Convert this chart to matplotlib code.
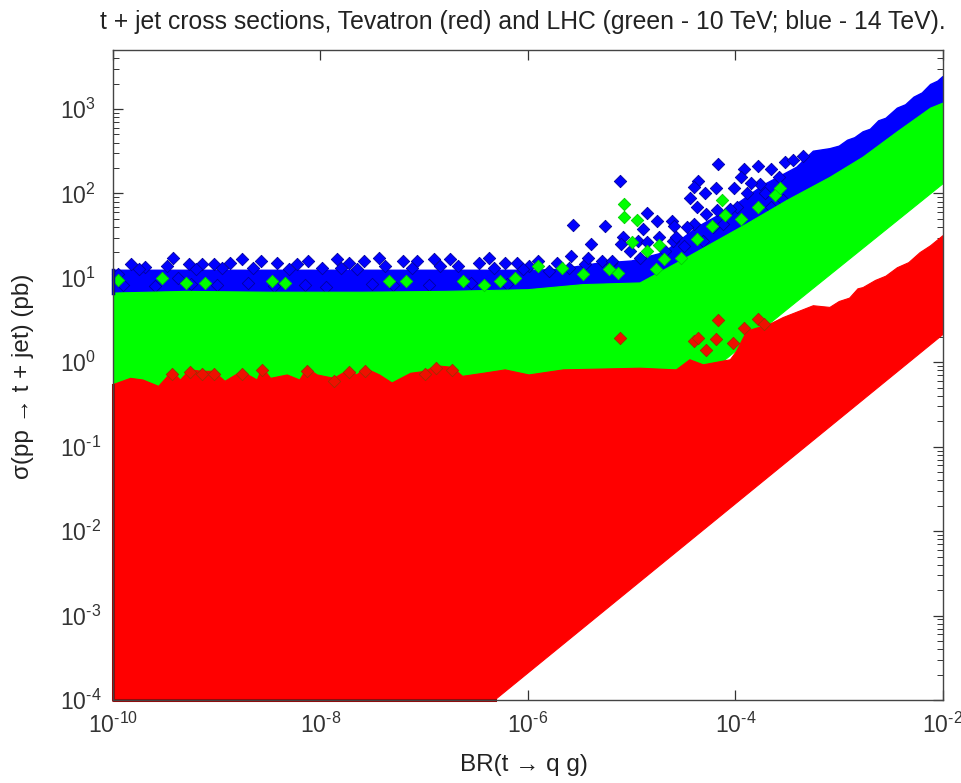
import matplotlib
matplotlib.use("Agg")
import matplotlib.pyplot as plt
import numpy as np
from matplotlib.ticker import FuncFormatter, NullFormatter

plt.rcParams["font.family"] = ["Liberation Sans", "DejaVu Sans"]
plt.rcParams["mathtext.fontset"] = "custom"
plt.rcParams["mathtext.rm"] = "Liberation Sans"
plt.rcParams["mathtext.default"] = "regular"

TITLE = "t + jet cross sections, Tevatron (red) and LHC (green - 10 TeV; blue - 14 TeV)."
X_LABEL = "BR(t \u2192 q g)"
Y_LABEL = "\u03c3(pp \u2192 t + jet) (pb)"
X_TICK_EXP = [-10, -8, -6, -4, -2]
Y_TICK_EXP = [-4, -3, -2, -1, 0, 1, 2, 3]

# all band edges and points are log10(BR), log10(sigma)
blue_top_x = [-10, -8, -6.0, -5.7, -5.34, -5.0, -4.69, -4.37, -4.05, -3.73, -3.41, -3.25, -3.09, -3.0, -2.92, -2.85,
              -2.77, -2.7, -2.62, -2.55, -2.44, -2.36, -2.28, -2.2, -2.12, -2.05, -2.0]
blue_top_y = [1.09, 1.09, 1.09, 1.10, 1.17, 1.20, 1.30, 1.60, 1.82, 2.10, 2.31, 2.50, 2.53, 2.56, 2.63, 2.66,
              2.73, 2.76, 2.86, 2.89, 3.01, 3.05, 3.14, 3.19, 3.29, 3.33, 3.385]

green_top_x = [-10, -9.3, -8.5, -7.6, -6.8, -6.0, -5.47, -4.92, -4.53, -3.89, -3.50, -3.09, -2.77, -2.44, -2.12, -2.0]
green_top_y = [0.82, 0.84, 0.83, 0.83, 0.84, 0.86, 0.92, 0.94, 1.20, 1.64, 1.92, 2.19, 2.43, 2.73, 3.01, 3.07]
green_low_x = [-10, -4.2, -3.5, -2.0]
green_low_y = [-0.5, -0.07, 0.63, 2.115]

red_top_x = [-10, -9.83, -9.71, -9.56, -9.43, -9.35, -9.26, -9.14, -9.03, -8.92, -8.76, -8.61, -8.56, -8.48,
             -8.32, -8.2, -8.13, -8.03, -7.87, -7.73, -7.65, -7.57, -7.43, -7.31, -7.13, -6.99, -6.89, -6.73,
             -6.63, -6.43, -6.22, -5.99, -5.66, -4.92, -4.57, -4.44, -4.31, -4.05, -3.99, -3.89, -3.67, -3.54,
             -3.25, -3.09, -3.0, -2.9, -2.82, -2.77, -2.65, -2.55, -2.44, -2.33, -2.22, -2.12, -2.05, -2.0]
red_top_y = [-0.265, -0.19, -0.21, -0.285, -0.107, -0.21, -0.09, -0.107, -0.107, -0.225, -0.107, -0.21, -0.06,
             -0.19, -0.15, -0.21, -0.07, -0.15, -0.19, -0.09, -0.15, -0.07, -0.15, -0.245, -0.13, -0.107, -0.04,
             -0.06, -0.166, -0.13, -0.09, -0.15, -0.09, -0.07, -0.09, 0.03, -0.03, 0.03, 0.13, 0.37, 0.45, 0.53,
             0.67, 0.65, 0.72, 0.76, 0.87, 0.885, 0.97, 1.02, 1.12, 1.18, 1.30, 1.38, 1.45, 1.50]
red_low_x = [-10, -6.32, -2.0]
red_low_y = [-4, -4, 0.33]

blue_x = [-9.95, -9.83, -9.69, -9.48, -9.42, -9.37, -9.27, -9.14, -9.03, -8.87, -8.76, -8.57, -8.42, -8.23,
          -8.12, -7.99, -7.84, -7.73, -7.58, -7.44, -7.38, -7.20, -7.07, -6.91, -6.75, -6.67, -6.47, -6.38,
          -6.22, -6.11, -5.99,
          -5.57, -5.26, -5.39, -5.11, -4.85, -4.76, -4.89, -4.61, -4.59, -5.08, -4.94, -4.85, -4.74, -5.10,
          -4.60, -4.36, -4.40, -4.44, -4.29, -4.19, -4.17, -3.92, -3.95, -3.78, -4.01, -3.52, -3.66, -4.37,
          -4.28, -4.40, -4.18, -4.12, -3.99, -3.89, -3.76, -3.66, -3.54, -3.58, -4.47, -4.57, -4.31,
          -9.9, -9.6, -9.25, -9.0, -8.7, -8.45, -8.15, -7.95, -7.5, -7.3, -6.95, -6.55, -6.2, -5.8, -5.6, -5.45, -5.2,
          -5.90, -5.72, -5.59, -5.42, -5.29, -5.19, -5.02, -4.92, -4.68, -9.75, -9.2, -8.95, -8.65, -8.3, -7.8,
          -7.65, -7.12, -6.85, -6.33, -6.05, -3.85, -3.45, -3.35, -3.72, -4.05, -4.22, -4.5]
blue_y = [1.04, 1.16, 1.13, 1.14, 1.24, 1.00, 1.16, 1.16, 1.16, 1.18, 1.22, 1.20, 1.18, 1.16, 1.20, 1.12, 1.22,
          1.18, 1.20, 1.24, 1.14, 1.20, 1.20, 1.22, 1.22, 1.14, 1.18, 1.24, 1.18, 1.18, 1.14,
          1.63, 1.61, 1.40, 2.15, 1.77, 1.67, 1.58, 1.67, 1.62, 1.48, 1.44, 1.42, 1.48, 1.40, 1.44, 2.15, 2.08,
          1.95, 2.00, 2.06, 2.35, 2.29, 2.19, 2.33, 2.07, 2.37, 2.29, 1.84, 1.76, 1.64, 1.80, 1.64, 1.84, 2.00,
          2.11, 1.84, 1.92, 2.19, 1.60, 1.48, 1.44,
          0.92, 0.90, 0.93, 0.91, 0.94, 0.90, 0.92, 0.89, 0.93, 0.91, 0.92, 0.94, 0.93, 1.08, 1.12, 1.16, 1.18,
          1.20, 1.18, 1.26, 1.24, 1.20, 1.20, 1.32, 1.24, 1.32, 1.10, 1.10, 1.12, 1.12, 1.10, 1.12,
          1.10, 1.12, 1.14, 1.12, 1.10, 2.12, 2.40, 2.44, 2.00, 1.82, 1.60, 1.38]

green_pt_x = [-9.95, -9.53, -9.30, -9.11, -8.47, -8.34, -7.34, -7.18, -6.63, -6.42, -6.27, -6.13,
              -5.90, -5.67, -5.47, -5.22, -5.13, -5.07, -5.07, -4.95, -5.0, -4.77, -4.85, -4.74, -4.69,
              -4.53, -4.37, -4.23, -4.13, -4.10, -3.95, -3.78, -3.62, -3.57]
green_pt_y = [0.97, 1.00, 0.94, 0.94, 0.96, 0.94, 0.96, 0.96, 0.96, 0.91, 0.96, 1.00,
              1.14, 1.12, 1.04, 1.10, 1.06, 1.88, 1.72, 1.69, 1.42, 1.10, 1.32, 1.39, 1.22,
              1.24, 1.46, 1.61, 1.92, 1.74, 1.70, 1.84, 1.98, 2.07]

red_pt_x = [-9.43, -9.26, -9.14, -9.03, -8.76, -8.56, -8.13, -7.87, -7.73, -7.57, -6.99, -6.89, -6.73,
            -5.11, -4.17, -4.40, -4.36, -4.28, -4.19, -4.02, -3.92, -3.78, -3.73]
red_pt_y = [-0.14, -0.12, -0.14, -0.14, -0.14, -0.09, -0.10, -0.22, -0.12, -0.10, -0.14, -0.07, -0.09,
            0.29, 0.50, 0.25, 0.29, 0.15, 0.27, 0.23, 0.41, 0.51, 0.45]


def band(top_x, top_y, low_x, low_y):
    xs = np.concatenate([top_x, low_x[::-1]])
    ys = np.concatenate([top_y, low_y[::-1]])
    return 10.0 ** xs, 10.0 ** ys


def pts(ax, xs, ys, color, edge, z):
    ax.scatter(10.0 ** np.array(xs), 10.0 ** np.array(ys), s=40, marker="D", color=color,
               edgecolors=edge, linewidths=0.6, zorder=z, clip_on=False)


def exp_label(v, pos=None):
    return "$10^{\\text{%d}}$" % round(np.log10(v))


fig = plt.figure(figsize=(9.62, 7.83), dpi=100)
ax = fig.add_axes([113 / 962, 1 - 700 / 783, 830 / 962, 650 / 783])
ax.set_xscale("log")
ax.set_yscale("log")

x, y = band(blue_top_x, blue_top_y, green_top_x, green_top_y)
ax.fill(x, y, color="#0000ff", lw=1.0, zorder=2)
pts(ax, blue_x, blue_y, "#0000ff", "#0000a0", 2.1)

x, y = band(green_top_x, green_top_y, green_low_x, green_low_y)
ax.fill(x, y, color="#00ff00", lw=0.8, zorder=3)
pts(ax, green_pt_x, green_pt_y, "#00ff00", "#00d000", 3.1)

x, y = band(red_top_x, red_top_y, red_low_x, red_low_y)
ax.fill(x, y, color="#ff0000", lw=0.8, zorder=4)
pts(ax, red_pt_x, red_pt_y, "#ee1000", "#a03000", 4.1)

# dark rim where the markers pile up along the left and bottom limits
ax.plot(10.0 ** np.array([-10, -10]), 10.0 ** np.array([green_top_y[0], blue_top_y[0]]), color="#0000a0", lw=2.5,
        zorder=4.2, clip_on=False)
ax.plot(10.0 ** np.array([-10, -10, red_low_x[1]]), 10.0 ** np.array([red_top_y[0], -4, -4]), color="#a00000", lw=2.2,
        zorder=4.2, clip_on=False)

ax.set_xlim(1e-10, 1e-2)
ax.set_ylim(1e-4, 5e3)
ax.set_xticks([10.0 ** e for e in X_TICK_EXP])
ax.set_yticks([10.0 ** e for e in Y_TICK_EXP])
ax.xaxis.set_major_formatter(FuncFormatter(exp_label))
ax.yaxis.set_major_formatter(FuncFormatter(exp_label))
ax.xaxis.set_minor_formatter(NullFormatter())
ax.yaxis.set_minor_formatter(NullFormatter())
ax.set_xticks([], minor=True)
y_minor = [m * 10.0 ** e for e in range(-4, 4) for m in range(2, 10)]
ax.set_yticks([v for v in y_minor if v < 5e3], minor=True)
ax.tick_params(which="major", direction="in", length=7, width=0.9, color="#333333", top=True, right=True,
               labelsize=16.5, labelcolor="#333333")
ax.tick_params(which="minor", direction="in", length=4, width=0.7, color="#333333", top=True, right=True)
ax.tick_params(axis="x", which="major", pad=9)
ax.tick_params(axis="y", which="major", pad=38)
for lab in ax.get_yticklabels():
    lab.set_horizontalalignment("left")
ax.set_axisbelow(True)
for s in ax.spines.values():
    s.set_color("#444444")
    s.set_linewidth(1.0)
    s.set_zorder(6)

fig.text(523 / 962, 1 - 22 / 783, TITLE, ha="center", va="center", fontsize=17.8, color="#222222")
fig.text(524 / 962, 1 - 765 / 783, X_LABEL, ha="center", va="center", fontsize=17.5, color="#222222")
fig.text(23 / 962, 1 - 376 / 783, Y_LABEL, ha="center", va="center", rotation=90, fontsize=17.5, color="#222222")

fig.savefig("out.png", dpi=100)
